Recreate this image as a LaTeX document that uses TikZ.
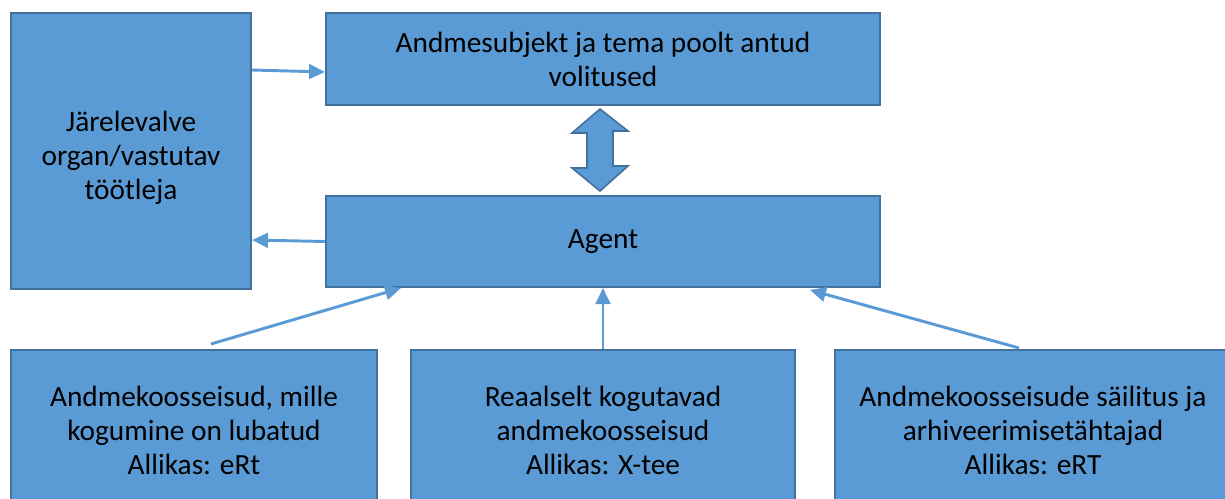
\documentclass[tikz,border=0pt]{standalone}
\usepackage{fontspec}
\setmainfont{Carlito}
\usetikzlibrary{arrows.meta,calc}
\definecolor{boxfill}{HTML}{5B9BD5}
\definecolor{boxline}{HTML}{41719C}
\tikzset{
  box/.style={draw=boxline, fill=boxfill, line width=1.5pt, inner sep=0pt,
    align=center, font=\fontsize{22}{25.5}\selectfont, text=black},
  boxtext/.style={inner sep=0pt, align=center,
    font=\fontsize{22}{25.5}\selectfont, text=black},
  link/.style={draw=boxfill, line width=2.2pt,
    -{Triangle[length=12pt,width=11pt]}, shorten >=0pt},
  twoway/.style={fill=boxfill, draw=boxline, line width=1.2pt, line join=miter}
}
\begin{document}
\begin{tikzpicture}[x=0.75pt,y=-0.75pt]
  \useasboundingbox (0,0) rectangle (1225,499);
  % upper boxes
  \node[box, minimum width=180pt, minimum height=207pt] (sup) at (131,151) {};
  \node[boxtext] (suptext) at ($(sup.center)+(0,7)$)
    {Järelevalve\\organ/vastutav\\töötleja};
  \node[box, minimum width=415.5pt, minimum height=69pt] (mandate) at (603,59)
    {Andmesubjekt ja tema poolt antud\\volitused};
  \node[box, minimum width=415.5pt, minimum height=68.25pt] (agent) at (603,241.5)
    {Agent};
  % lower boxes, running past the bottom edge
  \begin{scope}
    \clip (0,0) rectangle (1225,499);
    \node[box, minimum width=274.5pt, minimum height=120pt] (sets) at (194,430)
      {Andmekoosseisud, mille\\kogumine on lubatud\\Allikas: eRt};
    \node[box, minimum width=288pt, minimum height=120pt] (real) at (603,430)
      {Reaalselt kogutavad\\andmekoosseisud\\Allikas: X-tee};
    \node[box, minimum width=297pt, minimum height=120pt] (keep) at (1033,430)
      {Andmekoosseisude säilitus ja\\arhiveerimisetähtajad\\Allikas: eRT};
  \end{scope}
  % connectors
  \draw[link] (sup.east |- 0,70) -- (mandate.west |- 0,72);
  \draw[link] (agent.west) -- (sup.east |- 0,240);
  \draw[link] (211,344) -- (401,288);
  \draw[link] (real.north) -- (agent.south);
  \draw[link] (1019,348) -- (810,290);
  % two-way block arrow between the upper boxes
  \path (mandate.south) coordinate (ta) (agent.north) coordinate (tb);
  \draw[twoway]
    ($(ta)+(-3,3)$) -- ++(-28,24) -- ++(15,0) -- ++(0,35) -- ++(-15,0)
    -- ($(tb)+(-3,-4)$) -- ++(28,-25) -- ++(-15,0) -- ++(0,-35) -- ++(15,0)
    -- cycle;
\end{tikzpicture}
\end{document}
